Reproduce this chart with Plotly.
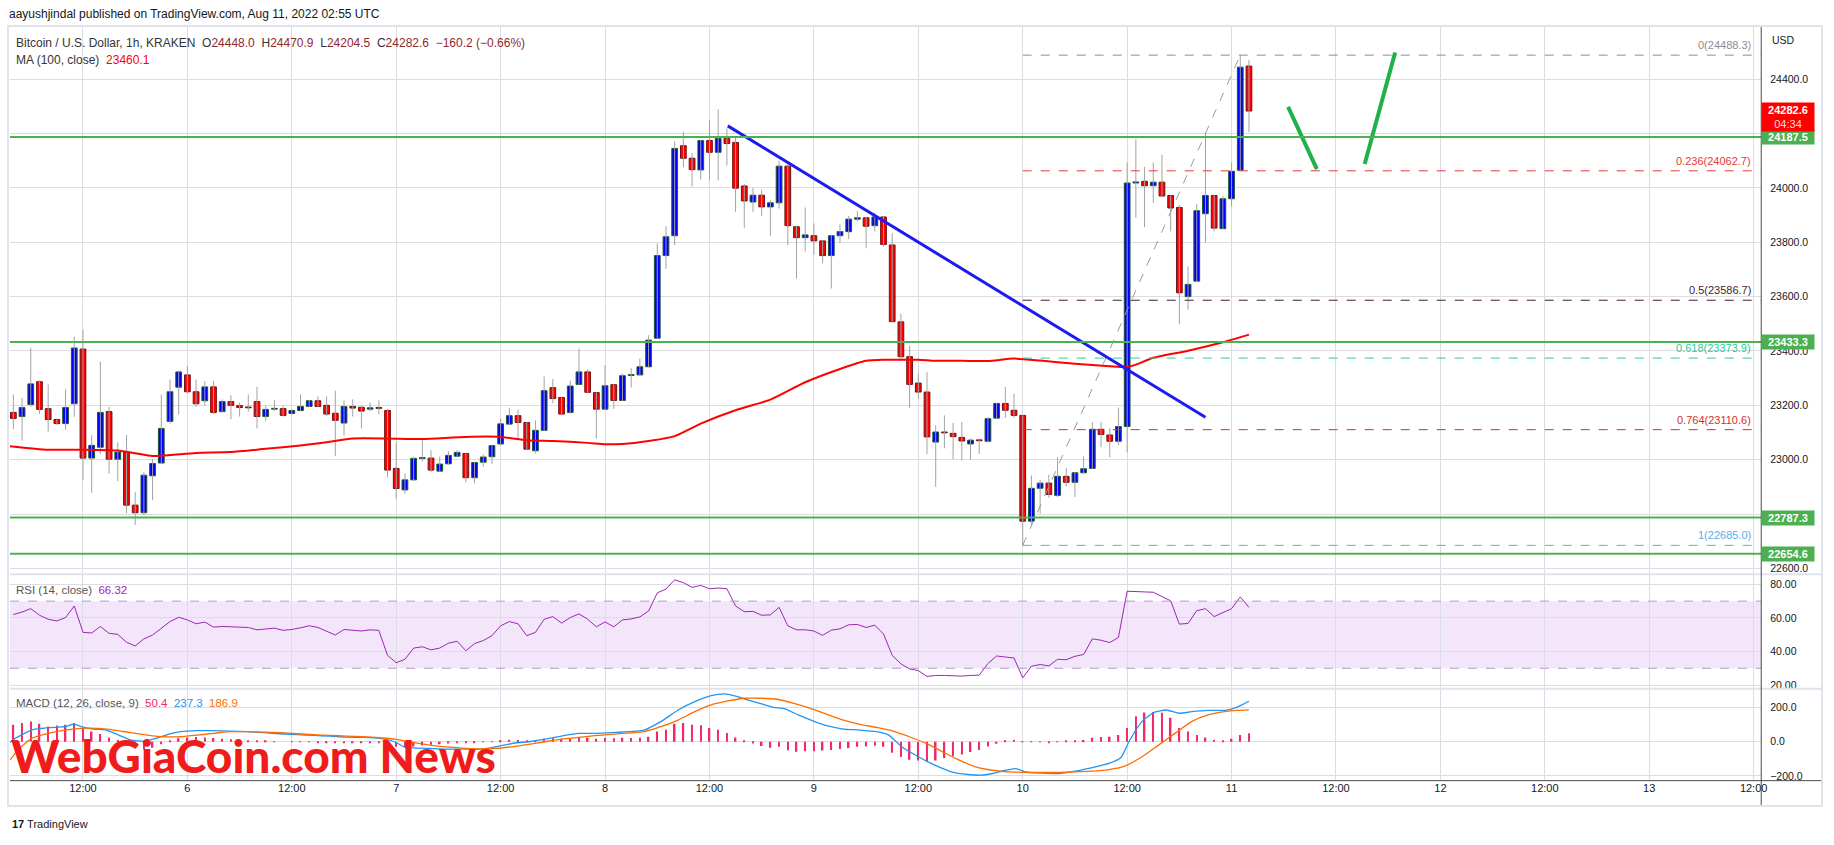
import pandas as pd
import plotly.graph_objects as go
from plotly.subplots import make_subplots

# ---------------- data ----------------
BASE = pd.Timestamp("2022-08-05 00:00")
FIRST_HOUR = 4  # first candle: Aug 5 04:00 UTC, 1h candles

opens = [23174, 23159, 23203, 23287, 23188, 23148, 23133, 23206, 23407, 23006,
         23046, 23177, 23002, 23028, 22833, 22805, 22941, 22988, 23141, 23267,
         23312, 23250, 23217, 23268, 23177, 23214, 23199, 23192, 23214, 23159,
         23186, 23188, 23170, 23181, 23196, 23217, 23200, 23171, 23135, 23196,
         23193, 23186, 23191, 23181, 22968, 22889, 22926, 23005, 23006, 22958,
         22985, 23013, 23023, 22934, 22991, 23011, 23058, 23131, 23162, 23137,
         23033, 23108, 23265, 23229, 23174, 23277, 23323, 23247, 23186, 23276,
         23218, 23310, 23312, 23342, 23447, 23751, 23824, 24155, 24109, 24066,
         24174, 24131, 24182, 24167, 24007, 23948, 23973, 23930, 23945, 24080,
         23857, 23817, 23824, 23805, 23751, 23824, 23839, 23885, 23890, 23861,
         23893, 23790, 23507, 23379, 23282, 23249, 23065, 23102, 23097, 23082,
         23058, 23072, 23068, 23153, 23207, 23182, 23163, 22774, 22895, 22914,
         22869, 22939, 22917, 22952, 22968, 23112, 23091, 23068, 23122, 24018,
         24024, 24008, 24021, 23972, 23928, 23600, 23657, 23905, 23972, 23850,
         23960, 24065, 24448.0]
highs = [23240, 23228, 23412, 23292, 23277, 23152, 23259, 23453, 23478, 23091,
         23361, 23195, 23064, 23091, 22882, 22955, 23003, 23240, 23295, 23328,
         23344, 23295, 23289, 23289, 23222, 23237, 23210, 23240, 23268, 23200,
         23219, 23198, 23186, 23240, 23220, 23233, 23233, 23254, 23218, 23222,
         23198, 23210, 23218, 23187, 23063, 22950, 23011, 23078, 23035, 23011,
         23031, 23035, 23025, 22992, 23020, 23052, 23151, 23191, 23184, 23139,
         23145, 23306, 23297, 23231, 23291, 23409, 23333, 23249, 23348, 23278,
         23317, 23336, 23372, 23458, 23796, 23859, 24172, 24207, 24128, 24176,
         24249, 24289, 24218, 24185, 24015, 24000, 23994, 23954, 24100, 24086,
         23861, 23928, 23869, 23807, 23826, 23866, 23897, 23914, 23893, 23909,
         23895, 23833, 23537, 23419, 23318, 23322, 23127, 23163, 23136, 23139,
         23078, 23078, 23156, 23209, 23268, 23243, 23165, 22942, 22926, 22945,
         23009, 22970, 22954, 23012, 23139, 23139, 23116, 23192, 24094, 24179,
         24077, 24094, 24122, 23974, 23938, 23711, 23941, 24204, 23974, 23970,
         24093, 24488.3, 24470.9]
lows = [23113, 23070, 23195, 23168, 23103, 23128, 23110, 23158, 22924, 22878,
        23022, 22949, 22921, 22803, 22760, 22797, 22851, 22985, 23133, 23167,
        23245, 23194, 23200, 23168, 23174, 23149, 23159, 23177, 23115, 23143,
        23180, 23159, 23166, 23178, 23193, 23194, 23160, 23013, 23089, 23159,
        23115, 23179, 23166, 22935, 22856, 22875, 22924, 22993, 22955, 22956,
        22983, 23011, 22916, 22913, 22974, 22984, 23053, 23129, 23072, 23035,
        23023, 23106, 23208, 23163, 23169, 23275, 23246, 23078, 23184, 23187,
        23216, 23266, 23310, 23340, 23445, 23702, 23790, 24076, 24005, 24031,
        24027, 24027, 24082, 23912, 23853, 23912, 23897, 23824, 23924, 23790,
        23666, 23766, 23754, 23723, 23630, 23796, 23812, 23878, 23778, 23839,
        23784, 23506, 23362, 23191, 23224, 23021, 22900, 23042, 23002, 22996,
        23000, 23021, 23063, 23151, 23154, 23154, 22685, 22760, 22802, 22860,
        22863, 22901, 22863, 22950, 22966, 23046, 23009, 23053, 23027, 23890,
        23856, 23945, 23968, 23840, 23498, 23552, 23654, 23799, 23840, 23848,
        23932, 24062.7, 24204.5]
closes = [23152, 23192, 23279, 23185, 23148, 23133, 23192, 23411, 23006, 23053,
          23174, 23002, 23028, 22833, 22805, 22943, 22986, 23115, 23250, 23323,
          23250, 23206, 23268, 23174, 23214, 23200, 23192, 23191, 23159, 23185,
          23188, 23163, 23181, 23196, 23217, 23196, 23168, 23145, 23196, 23190,
          23179, 23191, 23189, 22962, 22894, 22926, 23005, 23006, 22962, 22984,
          23016, 23027, 22934, 22990, 23010, 23052, 23132, 23162, 23137, 23039,
          23108, 23254, 23225, 23168, 23271, 23323, 23248, 23186, 23272, 23218,
          23309, 23312, 23342, 23440, 23751, 23820, 24145, 24109, 24067, 24174,
          24131, 24182, 24163, 23999, 23952, 23973, 23930, 23945, 24080, 23861,
          23817, 23827, 23805, 23751, 23824, 23839, 23885, 23890, 23859, 23893,
          23792, 23508, 23379, 23277, 23249, 23084, 23102, 23099, 23085, 23069,
          23072, 23070, 23151, 23207, 23182, 23163, 22774, 22895, 22914, 22872,
          22939, 22917, 22952, 22967, 23112, 23093, 23068, 23122, 24018, 24022,
          24008, 24021, 23970, 23926, 23614, 23645, 23916, 23972, 23852, 23960,
          24061, 24444, 24282.6]

rsi_values = [62.0, 63.5, 65.5, 61.6, 59.2, 58.2, 60.2, 67.1, 51.4, 51.0,
              54.9, 50.8, 50.2, 45.5, 43.3, 47.5, 49.8, 53.7, 57.8, 60.4,
              58.8, 56.5, 57.5, 54.5, 54.9, 54.7, 54.5, 54.3, 52.9, 53.5,
              53.9, 52.6, 53.1, 54.1, 55.3, 54.3, 52.2, 49.8, 53.1, 52.7,
              52.2, 52.9, 52.6, 37.7, 33.3, 35.3, 42.0, 42.8, 41.0, 42.0,
              44.9, 46.1, 40.4, 44.7, 46.5, 49.4, 55.3, 57.8, 56.5, 49.4,
              51.4, 59.2, 60.8, 56.9, 60.2, 62.4, 59.2, 54.7, 57.6, 54.7,
              58.8, 59.4, 60.6, 64.1, 74.9, 77.2, 82.7, 81.0, 78.2, 79.4,
              77.4, 77.8, 77.4, 67.1, 63.7, 63.9, 61.6, 61.8, 66.3, 55.3,
              52.9, 52.9, 52.2, 49.6, 52.7, 53.5, 55.9, 56.1, 54.3, 55.7,
              50.4, 37.7, 32.6, 29.6, 28.6, 25.1, 25.7, 25.7, 25.5, 25.3,
              25.7, 25.9, 32.8, 37.3, 36.7, 36.1, 24.3, 31.2, 32.2, 31.4,
              35.3, 35.1, 37.1, 38.2, 47.5, 46.7, 45.3, 48.4, 75.9, 75.9,
              75.5, 75.3, 72.7, 70.2, 56.3, 56.7, 64.3, 65.5, 60.8, 63.1,
              65.5, 72.5, 66.32]

macd_hist = [100, 110, 118, 105, 90, 95, 100, 110,
             80, 60, 45, 25, 10, -20, -40, -45, -35, -15,
             5, 20, 25, 28, 25, 22, 18, 14, 10, 8,
             5, 3, 1, 0, -2, -2, -3, -4, -5, -6,
             -5, -6, -6, -6, -7, -15, -30, -32, -28, -22,
             -18, -14, -10, -6, -8, -6, -3, 2, 8, 12,
             10, 4, 6, 18, 20, 17, 22, 28, 24, 18,
             22, 20, 24, 22, 24, 30, 60, 70, 105, 110,
             100, 96, 80, 70, 52, 25, 5, -10, -25, -35,
             -30, -50, -58, -55, -55, -52, -48, -42, -36, -30,
             -28, -24, -30, -65, -90, -105, -110, -118, -110, -95,
             -85, -75, -60, -48, -28, -12, 5, 12, -2, -3,
             -2, -4, 2, 3, 6, 10, 24, 28, 30, 40,
             80, 150, 172, 175, 170, 140, 80, 60, 40, 25,
             12, 8, 18, 40, 50.4]

ma_hours = [3.6, 8, 12, 16, 18, 20, 22, 25, 29, 33, 37, 40, 43, 47, 51, 56, 60, 63, 66, 70,
            72, 74, 77, 80, 83, 87, 91, 95, 99, 102, 104, 106, 108, 110, 113, 116, 119, 122,
            126, 130, 132, 133, 135, 139, 143, 146]
ma_values = [23050, 23037, 23037, 23034, 23024, 23014, 23017, 23025, 23028, 23040, 23052,
             23064, 23078, 23078, 23076, 23084, 23084, 23072, 23069, 23062, 23057, 23058,
             23069, 23087, 23133, 23182, 23221, 23285, 23334, 23364, 23368, 23368, 23368,
             23364, 23364, 23363, 23372, 23365, 23353, 23344, 23341, 23350, 23375, 23401,
             23432, 23460.1]

macd_hours = [3.6, 4.2, 6.1, 8.0, 9.9, 11.0, 11.8, 13.2, 14.7, 16.1, 17.5, 19.0, 20.4, 21.8,
              23.2, 25.1, 27.0, 28.9, 30.8, 32.8, 34.7, 36.6, 38.5, 40.4, 42.3, 44.2, 46.1,
              47.8, 48.9, 49.9, 51.8, 53.7, 55.6, 57.5, 58.9, 60.4, 61.8, 63.2, 65.1, 67.0,
              68.9, 70.8, 72.7, 74.6, 76.5, 78.4, 80.4, 82.3, 84.2, 85.7, 87.0, 88.4, 89.9,
              91.3, 92.7, 94.2, 96.1, 97.5, 99.4, 101.3, 103.2, 104.6, 106.1, 108.0, 109.9,
              111.8, 113.7, 115.1, 116.5, 118.0, 119.2, 120.3, 122.2, 124.1, 126.0, 128.0,
              129.9, 131.3, 132.2, 133.7, 135.1, 136.5, 138.0, 139.4, 141.3, 143.2, 144.6, 146.0]
macd_values = [-5, 19.6, 68.6, 82.3, 88.2, 103.9, 88.2, 74.5, 68.6, 39.2, 9.8, 3.9, 19.6, 43.1,
               58.8, 64.7, 64.7, 62.7, 58.8, 52.9, 47, 41.2, 37.2, 33.3, 27.4, 25.5, 19.6, 0,
               -29.4, -35.3, -39.2, -43.1, -43.1, -43.1, -35.3, -19.6, -5.9, 0, 15.7, 33.3, 49,
               49, 52.9, 58.8, 68.6, 117.6, 186, 235, 270, 280, 267, 245, 223, 202, 192, 157,
               118, 94, 74.5, 68.6, 58.8, 39.2, -29.4, -88, -137, -176, -192, -196, -186, -167,
               -157, -176, -184, -186, -172, -151, -127, -92, 0, 118, 172, 186, 167, 176, 184,
               184, 202, 237.3]

signal_hours = [3.6, 4.7, 6.1, 8.0, 9.9, 11.8, 13.7, 15.6, 17.5, 19.4, 21.3, 23.2, 25.1, 27.0,
                28.9, 30.8, 32.8, 34.7, 36.6, 38.5, 40.4, 42.3, 44.2, 46.1, 48.0, 49.9, 51.8,
                53.7, 55.6, 57.5, 59.4, 61.3, 63.2, 65.1, 67.0, 68.9, 70.8, 72.7, 74.6, 76.5,
                78.4, 80.4, 82.3, 84.2, 86.1, 88.0, 89.9, 91.8, 93.7, 95.6, 97.5, 99.4, 101.3,
                103.2, 105.1, 107.0, 108.9, 110.8, 112.7, 114.6, 116.5, 118.4, 120.3, 122.2,
                124.1, 126.0, 128.0, 129.9, 131.8, 133.7, 135.6, 137.5, 139.4, 141.3, 143.2,
                144.6, 146.0]
signal_values = [-108, -39, 19.6, 49, 68.6, 78.4, 78.4, 68.6, 52.9, 39.2, 29.4, 29.4, 39.2, 49,
                 58.8, 58.8, 56.8, 52.9, 47, 41.2, 37.2, 33.3, 29.4, 23.5, 13.7, -3.9, -19.6,
                 -29.4, -37.2, -41.2, -39.2, -29.4, -15.7, 0, 15.7, 25.5, 35.3, 43.1, 51, 58.8,
                 88.2, 127, 176, 216, 239, 255, 255, 249, 225, 196, 161, 127, 102, 84, 63, 29.4,
                 -9.8, -59, -108, -147, -167, -176, -180, -180, -180, -176, -172, -163, -141,
                 -88, -19.6, 49, 118, 157, 176, 184, 186.9]

tick_hours = [12, 24, 36, 48, 60, 72, 84, 96, 108, 120, 132, 144, 156, 168, 180, 192, 204]
tick_labels = ["12:00", "6", "12:00", "7", "12:00", "8", "12:00", "9", "12:00", "10",
               "12:00", "11", "12:00", "12", "12:00", "13", "12:00"]
price_ticks = [22600, 22800, 23000, 23200, 23400, 23600, 23800, 24000, 24200, 24400]
price_tick_text = ["22600.0", "", "23000.0", "23200.0", "23400.0", "23600.0", "23800.0",
                   "24000.0", "", "24400.0"]   # 22800 / 24200 hidden behind the level boxes
rsi_ticks = [20, 40, 60, 80]
macd_ticks = [-200, 0, 200]

support_levels = [24187.5, 23433.3, 22787.3, 22654.6]
fib_ratios = ["0", "0.236", "0.5", "0.618", "0.764", "1"]
fib_prices = [24488.3, 24062.7, 23586.7, 23373.9, 23110.6, 22685.0]
fib_colors = ["#8a8d96", "#e53935", "#4a1c30", "#2bc99a", "#d32f2f", "#58aee6"]
fib_start_hour = 120
fib_diag_hours = [120, 145]
fib_diag_prices = [22685.0, 24488.3]
trend_hours = [86.1, 141.0]
trend_prices = [24228, 23156]
proj1_hours = [150.5, 153.8]
proj1_prices = [24298, 24069]
proj2_hours = [159.3, 162.8]
proj2_prices = [24088, 24498]
last_price = 24282.6
ma_last = 23460.1
rsi_last = 66.32
macd_hist_last, macd_last, signal_last = 50.4, 237.3, 186.9

# ---------------- geometry helpers ----------------
W, H = 1834, 845
def px(x):
    return x / W
def py(y):
    return 1 - y / H
def T(h):
    return BASE + pd.Timedelta(hours=h)

PL, PR = 10, 1767
X_RANGE = [T(3.61), T(204.87)]
HOUR_MS = 3600 * 1000
FONT = "Liberation Sans, Arial, sans-serif"
GRID = "#dcdde2"
TXT = "#131722"

times = [T(FIRST_HOUR + i) for i in range(len(opens))]

fig = make_subplots(rows=3, cols=1, shared_xaxes=True, vertical_spacing=0)

# wicks
wx, wy = [], []
for i in range(len(opens)):
    wx += [times[i], times[i], None]
    wy += [lows[i], highs[i], None]
fig.add_trace(go.Scatter(x=wx, y=wy, mode="lines", line=dict(color="#a3a3a3", width=1),
                         hoverinfo="skip"), row=1, col=1)

def bodies(up):
    idx = [i for i in range(len(opens)) if (closes[i] >= opens[i]) == up]
    return ([times[i] for i in idx],
            [min(opens[i], closes[i]) for i in idx],
            [max(abs(closes[i] - opens[i]), 3) for i in idx])

for up, fill, edge in [(True, "#0000ff", "#1f5a2c"), (False, "#ff0000", "#6e1414")]:
    bx, bb, bh = bodies(up)
    fig.add_trace(go.Bar(x=bx, y=bh, base=bb, width=0.66 * HOUR_MS,
                         marker=dict(color=fill, line=dict(color=edge, width=1)),
                         hoverinfo="skip"), row=1, col=1)

# MA 100
fig.add_trace(go.Scatter(x=[T(h) for h in ma_hours], y=ma_values, mode="lines",
                         line=dict(color="#ff0000", width=2, shape="spline", smoothing=0.6),
                         hoverinfo="skip"), row=1, col=1)

# fib retracement lines
for p, c in zip(fib_prices, fib_colors):
    fig.add_trace(go.Scatter(x=[T(fib_start_hour), X_RANGE[1]], y=[p, p], mode="lines",
                             line=dict(color=c, width=1, dash="dash"), hoverinfo="skip"),
                  row=1, col=1)
fig.add_trace(go.Scatter(x=[T(h) for h in fib_diag_hours], y=fib_diag_prices, mode="lines",
                         line=dict(color="#9a9a9a", width=1, dash="dash"), hoverinfo="skip"),
              row=1, col=1)

# trend line and projections
fig.add_trace(go.Scatter(x=[T(h) for h in trend_hours], y=trend_prices, mode="lines",
                         line=dict(color="#1c1cf0", width=3), hoverinfo="skip"), row=1, col=1)
for hh, pp in [(proj1_hours, proj1_prices), (proj2_hours, proj2_prices)]:
    fig.add_trace(go.Scatter(x=[T(h) for h in hh], y=pp, mode="lines",
                             line=dict(color="#22b04b", width=4), hoverinfo="skip"),
                  row=1, col=1)

# RSI
fig.add_trace(go.Scatter(x=times, y=rsi_values, mode="lines",
                         line=dict(color="#9c27b0", width=1), hoverinfo="skip"), row=2, col=1)

# MACD
fig.add_trace(go.Bar(x=times, y=macd_hist, width=0.18 * HOUR_MS,
                     marker=dict(color="#ee2a6a", line=dict(width=0)), hoverinfo="skip"),
              row=3, col=1)
fig.add_trace(go.Scatter(x=[T(h) for h in macd_hours], y=macd_values, mode="lines",
                         line=dict(color="#2196f3", width=1.3, shape="spline", smoothing=0.5),
                         hoverinfo="skip"), row=3, col=1)
fig.add_trace(go.Scatter(x=[T(h) for h in signal_hours], y=signal_values, mode="lines",
                         line=dict(color="#ff6d00", width=1.3, shape="spline", smoothing=0.5),
                         hoverinfo="skip"), row=3, col=1)

# ---------------- axes ----------------
fig.update_xaxes(range=X_RANGE, tickvals=[T(h) for h in tick_hours], ticktext=tick_labels,
                 showgrid=True, gridcolor=GRID, gridwidth=1, zeroline=False, showline=False,
                 ticks="", domain=[px(PL), px(PR)], showticklabels=False)
fig.update_xaxes(showticklabels=True, tickfont=dict(family=FONT, size=11, color=TXT),
                 row=3, col=1)

yax = dict(side="right", showgrid=True, gridcolor=GRID, gridwidth=1, zeroline=False,
           showline=False, ticks="", tickfont=dict(family=FONT, size=10.5, color=TXT),
           ticklabelstandoff=8)
fig.update_yaxes(**yax)
fig.update_yaxes(range=[22581, 24592], tickvals=price_ticks, ticktext=price_tick_text,
                 domain=[py(575), py(27)], row=1, col=1)
fig.update_yaxes(range=[18.0, 85.8], tickvals=rsi_ticks, tickformat=".2f",
                 domain=[py(690), py(576)], row=2, col=1)
fig.update_yaxes(range=[-225, 307], tickvals=macd_ticks, tickformat=".1f",
                 domain=[py(782), py(691)], row=3, col=1)

# ---------------- shapes ----------------
shapes = []
shapes.append(dict(type="rect", xref="x2 domain", yref="y2", x0=0, x1=1, y0=30, y1=70,
                   fillcolor="#f3e6fb", line=dict(width=0), layer="below"))
for lvl in [70, 30]:
    shapes.append(dict(type="line", xref="x2 domain", yref="y2", x0=0, x1=1, y0=lvl, y1=lvl,
                       line=dict(color="#b49cc8", width=1, dash="dash")))
for lvl in support_levels:
    shapes.append(dict(type="line", xref="x domain", yref="y", x0=0, x1=1, y0=lvl, y1=lvl,
                       line=dict(color="#4caf50", width=2)))
for yy in [575.5, 690.5]:
    shapes.append(dict(type="line", xref="paper", yref="paper", x0=px(PL), x1=px(1828),
                       y0=py(yy), y1=py(yy), line=dict(color="#e0e3eb", width=2)))
shapes.append(dict(type="line", xref="paper", yref="paper", x0=px(PR), x1=px(PR),
                   y0=py(27), y1=py(808), line=dict(color="#4a4a4a", width=1)))
shapes.append(dict(type="line", xref="paper", yref="paper", x0=px(PL), x1=px(1828),
                   y0=py(782.5), y1=py(782.5), line=dict(color="#4a4a4a", width=1)))
shapes.append(dict(type="rect", xref="paper", yref="paper", x0=px(8), x1=px(1828),
                   y0=py(808), y1=py(26), line=dict(color="#e0e3eb", width=2)))

# ---------------- annotations ----------------
ann = []
def text(x, y, s, size=10.5, color=TXT, xanchor="left", yanchor="middle", **kw):
    fam = kw.pop("family", FONT)
    fnt = dict(family=fam, size=size, color=color)
    if "weight" in kw:
        fnt["weight"] = kw.pop("weight")
    ann.append(dict(x=px(x), y=py(y), xref="paper", yref="paper", text=s, showarrow=False,
                    xanchor=xanchor, yanchor=yanchor, font=fnt, **kw))

text(7, 14, "aayushjindal published on TradingView.com, Aug 11, 2022 02:55 UTC", size=12)
V = "#8e2a2a"
sp = "&nbsp;&nbsp;"
row1 = ("Bitcoin / U.S. Dollar, 1h, KRAKEN" + sp +
        f"O<span style='color:{V}'>{opens[-1]:.1f}</span>" + sp +
        f"H<span style='color:{V}'>{highs[-1]:.1f}</span>" + sp +
        f"L<span style='color:{V}'>{lows[-1]:.1f}</span>" + sp +
        f"C<span style='color:{V}'>{closes[-1]:.1f}</span>" + sp +
        f"<span style='color:{V}'>−160.2 (−0.66%)</span>")
text(14, 43, row1, size=12, color="#333333")
text(14, 60, f"MA (100, close)&nbsp;&nbsp;<span style='color:#ff0000'>{ma_last:.1f}</span>",
     size=12, color="#333333")
text(14, 591, f"RSI (14, close)&nbsp;&nbsp;<span style='color:#9c27b0'>{rsi_last:.2f}</span>",
     size=11.5, color="#555555")
text(14, 705, "MACD (12, 26, close, 9)&nbsp;&nbsp;"
     f"<span style='color:#ee2a6a'>{macd_hist_last:.1f}</span>&nbsp;&nbsp;"
     f"<span style='color:#2196f3'>{macd_last:.1f}</span>&nbsp;&nbsp;"
     f"<span style='color:#ff6d00'>{signal_last:.1f}</span>", size=11.5, color="#555555")
text(1776, 40, "USD", size=10.5)

for r, p, c in zip(fib_ratios, fib_prices, fib_colors):
    ann.append(dict(x=px(1759), y=p, xref="paper", yref="y", text=f"{r}({p:.1f})",
                    showarrow=False, xanchor="right", yanchor="bottom", yshift=2,
                    font=dict(family=FONT, size=11, color=c)))

for lvl in support_levels:
    ann.append(dict(x=px(PR), y=lvl, xref="paper", yref="y", text=f"<b>{lvl:.1f}</b>",
                    showarrow=False, xanchor="left", yanchor="middle", width=52, height=14,
                    bgcolor="#4caf50", borderpad=0,
                    font=dict(family=FONT, size=11, color="#ffffff")))
ann.append(dict(x=px(PR), y=last_price, xref="paper", yref="y",
                text=f"<b>{last_price:.1f}</b><br><span style='color:#ffd6d6'>04:34</span>",
                showarrow=False, xanchor="left", yanchor="middle", width=52, height=28,
                yshift=-6, bgcolor="#ff0000", borderpad=0,
                font=dict(family=FONT, size=11, color="#ffffff")))

# watermark
text(9, 757, "WebGiaCoin.com News", size=46, color="#f01c1c",
     family="Lato, Liberation Sans, sans-serif", weight=900)
# footer
text(10, 826, "<b>17</b> TradingView", size=11, color=TXT)

fig.update_layout(width=W, height=H, margin=dict(l=0, r=0, t=0, b=0),
                  paper_bgcolor="#ffffff", plot_bgcolor="#ffffff", showlegend=False,
                  barmode="overlay", shapes=shapes, annotations=ann,
                  font=dict(family=FONT, size=10.5, color=TXT))

fig.write_html("out.html", config={"displayModeBar": False},
               post_script="document.body.style.margin='0';")
